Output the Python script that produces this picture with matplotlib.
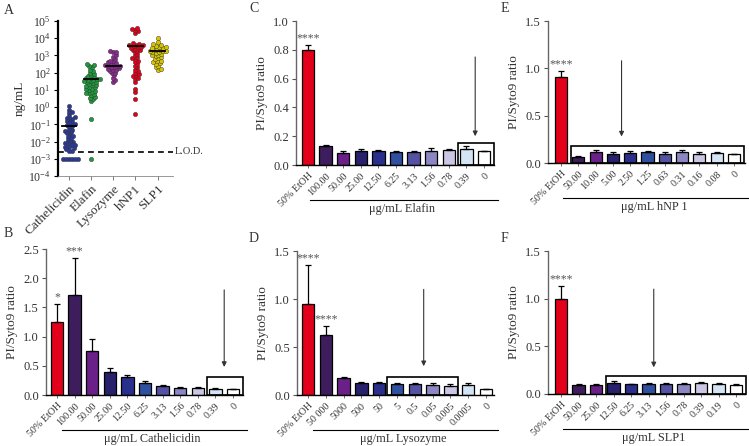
import numpy as np
import matplotlib
matplotlib.use("Agg")
import matplotlib.pyplot as plt
from matplotlib.patches import Rectangle
from matplotlib.transforms import blended_transform_factory, ScaledTranslation

plt.rcParams['font.family'] = ['Liberation Serif', 'DejaVu Serif']
plt.rcParams['mathtext.fontset'] = 'stix'

TXT = '#333333'

# ---------------- Panel A data ----------------
a_categories = ['Cathelicidin', 'Elafin', 'Lysozyme', 'hNP1', 'SLP1']
a_cathelicidin = [1.1, 0.7, 0.55, 0.45, 0.3, 0.25, 0.22, 0.2, 0.18, 0.15, 0.13, 0.12, 0.1,
                  0.09, 0.08, 0.07, 0.05, 0.045, 0.04, 0.035, 0.03, 0.025, 0.02, 0.018,
                  0.015, 0.012, 0.01, 0.009, 0.008, 0.007, 0.006, 0.006, 0.005, 0.005,
                  0.004, 0.0035, 0.003, 0.003, 0.001, 0.001, 0.001, 0.001, 0.001, 0.001]
a_elafin = [0.001, 0.2, 2.2, 3, 3.5, 4, 5, 6, 6.5, 7, 8, 9, 10, 11, 12, 14, 15, 17, 18, 20,
            22, 25, 28, 30, 32, 35, 38, 40, 42, 45, 48, 50, 55, 60, 70, 80, 100, 120, 150,
            200, 230, 280, 300]
a_lysozyme = [30, 40, 50, 70, 90, 100, 120, 140, 150, 170, 180, 200, 220, 240, 250, 260,
              280, 300, 330, 350, 400, 450, 500, 600, 800, 1000, 1500, 1600, 1700]
a_hnp1 = [0.4, 3, 8, 12, 30, 45, 50, 60, 70, 80, 100, 120, 150, 200, 250, 300, 400, 500,
          600, 700, 800, 1000, 1200, 1500, 1800, 2000, 2200, 2500, 2800, 3000, 3200, 3500,
          3800, 4000, 4200, 4500, 5000, 20000, 25000, 30000, 35000, 40000]
a_slp1 = [150, 170, 200, 250, 300, 350, 400, 450, 500, 600, 700, 800, 900, 1000, 1100,
          1200, 1400, 1500, 1600, 1700, 1800, 1900, 2000, 2200, 2400, 2600, 2800, 3000,
          3300, 3600, 4000, 4500, 6000, 10000]
a_medians = [0.08, 45, 250, 3500, 1800]
a_colors = ['#2b3a97', '#1e9a3c', '#8b2a90', '#e3001b', '#d6c400']
a_lod = 0.0025

# ---------------- Bar panels data ----------------
bar_colors = ['#e2001a', '#3d1d5c', '#6b1f88', '#28216b', '#2a2f8c', '#2f4f9f',
              '#5552a3', '#8c87c3', '#cbc6e4', '#d3e5f5', '#ffffff']

b_labels = ['50% EtOH', '100.00', '50.00', '25.00', '12.50', '6.25', '3.13', '1.56', '0.78', '0.39', '0']
b_values = [1.25, 1.71, 0.76, 0.40, 0.30, 0.21, 0.155, 0.125, 0.12, 0.11, 0.10]
b_errors = [0.30, 0.63, 0.20, 0.06, 0.05, 0.03, 0.015, 0.012, 0.012, 0.012, 0.01]
b_stars = ['*', '***', '', '', '', '', '', '', '', '', '']

c_labels = ['50% EtOH', '100.00', '50.00', '25.00', '12.50', '6.25', '3.13', '1.56', '0.78', '0.39', '0']
c_values = [0.80, 0.13, 0.085, 0.10, 0.095, 0.088, 0.092, 0.10, 0.105, 0.11, 0.095]
c_errors = [0.03, 0.008, 0.01, 0.01, 0.01, 0.01, 0.005, 0.015, 0.008, 0.02, 0.004]
c_stars = ['****', '', '', '', '', '', '', '', '', '', '']

d_labels = ['50% EtOH', '50 000', '5000', '500', '50', '5', '0.5', '0.05', '0.005', '0.0005', '0']
d_values = [0.95, 0.62, 0.18, 0.12, 0.12, 0.11, 0.11, 0.10, 0.095, 0.10, 0.06]
d_errors = [0.40, 0.10, 0.01, 0.02, 0.02, 0.012, 0.02, 0.02, 0.018, 0.025, 0.006]
d_stars = ['****', '****', '', '', '', '', '', '', '', '', '']

e_labels = ['50% EtOH', '50.00', '10.00', '5.00', '2.50', '1.25', '0.63', '0.31', '0.16', '0.08', '0']
e_values = [0.91, 0.065, 0.12, 0.10, 0.11, 0.115, 0.10, 0.12, 0.09, 0.105, 0.095]
e_errors = [0.06, 0.008, 0.02, 0.015, 0.012, 0.015, 0.02, 0.02, 0.03, 0.008, 0.005]
e_stars = ['****', '', '', '', '', '', '', '', '', '', '']

f_labels = ['50% EtOH', '50.00', '25.00', '12.50', '6.25', '3.13', '1.56', '0.78', '0.39', '0.19', '0']
f_values = [1.0, 0.095, 0.095, 0.12, 0.10, 0.11, 0.105, 0.11, 0.12, 0.11, 0.095]
f_errors = [0.13, 0.01, 0.008, 0.012, 0.008, 0.008, 0.01, 0.008, 0.01, 0.008, 0.008]
f_stars = ['****', '', '', '', '', '', '', '', '', '', '']

W, H = 749, 446
fig = plt.figure(figsize=(W / 100, H / 100), dpi=100)


def px_axes(l, t, r, b):
    return fig.add_axes([l / W, 1 - b / H, (r - l) / W, (b - t) / H])


def swarm(vals, ppd, ppu, d):
    ys = np.log10(np.asarray(vals, float)) * ppd
    order = np.argsort(ys)
    placed = []
    offs = np.zeros(len(ys))
    for i in order:
        y = ys[i]
        k = 0
        while True:
            cands = [0.0] if k == 0 else [k * 0.5, -k * 0.5]
            ok = None
            for c in cands:
                if all((c - px) ** 2 + (y - py) ** 2 >= d * d for px, py in placed):
                    ok = c
                    break
            if ok is not None:
                placed.append((ok, y))
                offs[i] = ok / ppu
                break
            k += 1
    return offs


# ---------------- Panel A ----------------
axA = px_axes(58, 21, 173, 176)
groups = [a_cathelicidin, a_elafin, a_lysozyme, a_hnp1, a_slp1]
ppd = 155 / 9.0
ppu = 22.0
for i, (vals, col) in enumerate(zip(groups, a_colors)):
    offs = swarm(vals, ppd, ppu, 2.8)
    axA.scatter(i + offs, vals, s=10, color=col, edgecolors='#333333', linewidths=0.3, zorder=3)
    axA.plot([i - 0.33, i + 0.33], [a_medians[i]] * 2, color='black', lw=1.3, zorder=4)
axA.axhline(a_lod, color='black', lw=1.2, ls=(0, (3.5, 2.5)), xmax=1.0, zorder=2)
axA.text(4.78, a_lod, 'L.O.D.', fontsize=7.5, color=TXT, va='center', ha='left')
axA.set_yscale('log')
axA.set_ylim(1e-4, 1e5)
axA.set_xlim(-0.5, 4.7)
axA.set_yticks([10.0 ** k for k in range(-4, 6)])
axA.yaxis.set_minor_locator(matplotlib.ticker.NullLocator())
axA.set_xticks(range(5))
axA.set_xticklabels(a_categories, rotation=45, ha='right', rotation_mode='anchor', fontsize=9.5, color=TXT)
axA.tick_params(axis='y', labelsize=8.5, labelcolor=TXT, length=3, width=0.8, pad=2)
axA.tick_params(axis='x', length=3, width=0.6, pad=2, color='#666666')
axA.spines['top'].set_visible(False)
axA.spines['right'].set_visible(False)
axA.spines['left'].set_linewidth(1.6)
axA.spines['bottom'].set_linewidth(0.6)
axA.spines['bottom'].set_color('#888888')
axA.set_ylabel('ng/mL', fontsize=9.5, color=TXT, labelpad=2)
fig.text(4 / W, 1 - 11 / H, 'A', fontsize=10, color=TXT, va='center')


def bar_panel(box, labels, values, errors, stars, ymax, ystep, xlabel, letter, letter_xy,
              rect, arrow, first_px, spacing, line_start):
    l, t, r, b = box
    ax = px_axes(l, t, r, b)
    x = np.arange(len(values))
    ax.bar(x, values, width=0.7, color=bar_colors, edgecolor='black', linewidth=0.9, zorder=2)
    ax.errorbar(x, values, yerr=[np.zeros(len(values)), errors], fmt='none', ecolor='black',
                elinewidth=0.9, capsize=2.2, capthick=0.9, zorder=3)
    for xi, v, e, s in zip(x, values, errors, stars):
        if s:
            ax.text(xi, v + e + ymax * 0.005, s, ha='center', va='bottom', fontsize=8.5, color='#555555')
    xl = (l - first_px) / spacing
    xr = (r - first_px) / spacing
    ax.set_xlim(xl, xr)
    ax.set_ylim(0, ymax)
    ax.set_yticks(np.arange(0, ymax + 1e-9, ystep))
    ax.yaxis.set_major_formatter(matplotlib.ticker.FormatStrFormatter('%.1f'))
    ax.set_xticks(x)
    ax.set_xticklabels(labels, rotation=45, ha='right', rotation_mode='anchor', fontsize=7.2, color=TXT)
    ax.tick_params(axis='y', labelsize=9, labelcolor=TXT, length=3, width=0.8, pad=2, color='#555555')
    ax.tick_params(axis='x', length=2.5, width=0.6, pad=2, color='#555555')
    ax.spines['top'].set_visible(False)
    ax.spines['right'].set_visible(False)
    ax.spines['left'].set_color('#666666')
    ax.spines['left'].set_linewidth(1.0)
    ax.spines['bottom'].set_linewidth(1.0)
    ax.set_ylabel('PI/Syto9 ratio', fontsize=9.5, color=TXT, labelpad=4)
    rx0, rx1, rtop = rect
    ax.add_patch(Rectangle((rx0, 0), rx1 - rx0, rtop, fill=False, edgecolor='black', lw=1.2,
                           clip_on=False, zorder=4))
    ax_x, ay0, ay1 = arrow
    ax.annotate('', xy=(ax_x, ay1), xytext=(ax_x, ay0),
                arrowprops=dict(arrowstyle='-|>', color='#333333', lw=0.8, mutation_scale=7,
                                shrinkA=0, shrinkB=0))
    tr = blended_transform_factory(ax.transData, ax.transAxes)
    tr1 = tr + ScaledTranslation(0, -35 / 100, fig.dpi_scale_trans)
    ax.plot([line_start, xr + 0.25], [0, 0], color='black', lw=0.8, transform=tr1, clip_on=False)
    tr2 = tr + ScaledTranslation(0, -44 / 100, fig.dpi_scale_trans)
    ax.text((line_start + xr) / 2, 0, xlabel, transform=tr2, ha='center', va='center',
            fontsize=8.8, color=TXT)
    fig.text(letter_xy[0] / W, 1 - letter_xy[1] / H, letter, fontsize=10, color=TXT, va='center')
    return ax


bar_panel((46, 249, 243, 395), b_labels, b_values, b_errors, b_stars, 2.5, 0.5,
          'μg/mL Cathelicidin', 'B', (4, 234), (8.55, 10.55, 0.30), (9.5, 1.8, 0.48),
          57, 17.6, 0.3)
bar_panel((296, 21, 494, 165), c_labels, c_values, c_errors, c_stars, 1.0, 0.2,
          'μg/mL Elafin', 'C', (249, 8), (8.55, 10.55, 0.155), (9.5, 0.75, 0.2),
          308, 17.6, 0.1)
bar_panel((297, 251, 494, 395), d_labels, d_values, d_errors, d_stars, 1.5, 0.5,
          'μg/mL Lysozyme', 'D', (249, 238), (4.45, 8.45, 0.19), (6.5, 1.1, 0.3),
          308, 17.8, 0.3)
bar_panel((548, 21, 745, 163), e_labels, e_values, e_errors, e_stars, 1.5, 0.5,
          'μg/mL hNP 1', 'E', (501, 8), (0.55, 10.55, 0.18), (3.5, 1.08, 0.28),
          561, 17.3, 0.1)
bar_panel((548, 251, 745, 394), f_labels, f_values, f_errors, f_stars, 1.5, 0.5,
          'μg/mL SLP1', 'F', (501, 238), (2.55, 10.55, 0.19), (5.3, 1.1, 0.28),
          561, 17.5, 0.1)

fig.savefig('out.png', dpi=100, facecolor='white')
